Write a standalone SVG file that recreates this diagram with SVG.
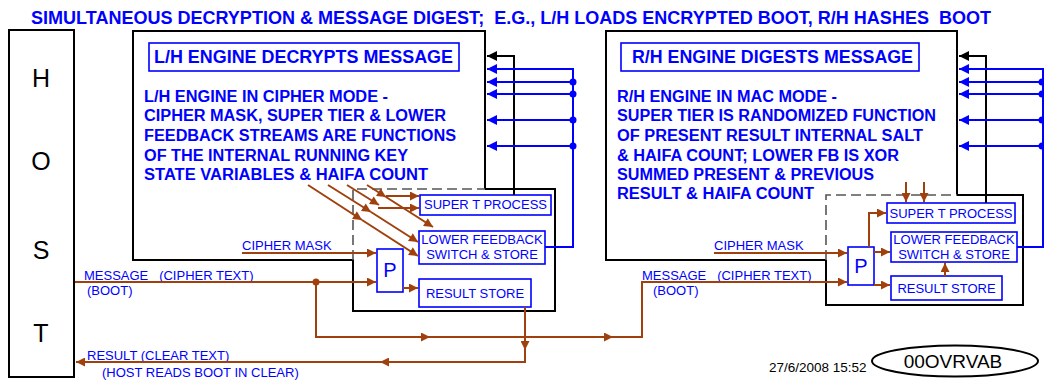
<svg xmlns="http://www.w3.org/2000/svg" width="1044" height="381" viewBox="0 0 1044 381">
<defs>
<style>
text{font-family:"Liberation Sans",Arial,sans-serif}
.bt{font-weight:bold;fill:#0000ff;font-size:16px}
.tt{font-weight:bold;fill:#0000ff;font-size:18px}
.sb{fill:#fff;stroke:#0000ff;stroke-width:1.6}
.st{font-size:13px;fill:#0000ff;text-anchor:middle}
.lb{font-size:13px;fill:#0000ff}
.bk{fill:none;stroke:#000;stroke-width:2}
.dash{fill:none;stroke:#555;stroke-width:1.6;stroke-dasharray:10 5}
.br{fill:none;stroke:#A0410D;stroke-width:2}
.bl{fill:none;stroke:#0000ff;stroke-width:2}
.host{font-size:25px;fill:#000;text-anchor:middle}
</style>
<marker id="ab" viewBox="0 0 10 10" refX="10" refY="5" markerWidth="11" markerHeight="9" markerUnits="userSpaceOnUse" orient="auto"><path d="M0,0L10,5L0,10z" fill="#A0410D"/></marker>
<marker id="abl" viewBox="0 0 10 10" refX="10" refY="5" markerWidth="13" markerHeight="10" markerUnits="userSpaceOnUse" orient="auto"><path d="M0,0L10,5L0,10z" fill="#0000ff"/></marker>
<marker id="abk" viewBox="0 0 10 10" refX="10" refY="5" markerWidth="13" markerHeight="10" markerUnits="userSpaceOnUse" orient="auto"><path d="M0,0L10,5L0,10z" fill="#000"/></marker>
</defs>
<rect width="1044" height="381" fill="#fff"/>

<text id="title" x="31" y="24" class="tt" xml:space="preserve" textLength="960" lengthAdjust="spacingAndGlyphs">SIMULTANEOUS DECRYPTION &amp; MESSAGE DIGEST;  E.G., L/H LOADS ENCRYPTED BOOT, R/H HASHES  BOOT</text>

<g id="host">
<rect x="9" y="30" width="65" height="347" fill="#fff" stroke="#000" stroke-width="2"/>
<text x="41" y="87" class="host">H</text>
<text x="41" y="170" class="host">O</text>
<text x="41" y="259" class="host">S</text>
<text x="41" y="342" class="host">T</text>
</g>

<g id="lh-engine">
<path class="bk" d="M354,260H133V31H485V189"/>
<rect class="sb" x="149" y="43" width="310" height="28" stroke-width="2"/>
<text x="154" y="63" class="tt" textLength="299" lengthAdjust="spacingAndGlyphs">L/H ENGINE DECRYPTS MESSAGE</text>
<text class="bt" x="144" y="102" textLength="244" lengthAdjust="spacingAndGlyphs">L/H ENGINE IN CIPHER MODE -</text>
<text class="bt" x="144" y="121" textLength="302" lengthAdjust="spacingAndGlyphs">CIPHER MASK, SUPER TIER &amp; LOWER</text>
<text class="bt" x="144" y="141" textLength="312" lengthAdjust="spacingAndGlyphs">FEEDBACK STREAMS ARE FUNCTIONS</text>
<text class="bt" x="144" y="161" textLength="264" lengthAdjust="spacingAndGlyphs">OF THE INTERNAL RUNNING KEY</text>
<text class="bt" x="144" y="180" textLength="284" lengthAdjust="spacingAndGlyphs">STATE VARIABLES &amp; HAIFA COUNT</text>
</g>

<g id="lh-process">
<path class="bk" d="M485,189H555V311H353V260"/>
<path class="dash" d="M353,260V189H485"/>
</g>
<g id="lh-supert"><rect class="sb" x="420" y="195" width="131" height="20"/><text class="st" x="485.5" y="208.5">SUPER T PROCESS</text></g>
<g id="lh-lower"><rect class="sb" x="419" y="231" width="126" height="33"/><text class="st" x="482" y="243.5">LOWER FEEDBACK</text><text class="st" x="482" y="259">SWITCH &amp; STORE</text></g>
<g id="lh-result"><rect class="sb" x="419" y="279" width="112" height="28"/><text class="st" x="475" y="298">RESULT STORE</text></g>
<g id="lh-p"><rect class="sb" x="377" y="249" width="26" height="43" stroke-width="2"/><text x="390" y="277" font-size="20" fill="#0000ff" text-anchor="middle">P</text></g>

<g id="rh-engine">
<path class="bk" d="M826,260H606V31H957V195"/>
<rect class="sb" x="621" y="43" width="298" height="28" stroke-width="2"/>
<text x="632" y="63" class="tt" textLength="281" lengthAdjust="spacingAndGlyphs">R/H ENGINE DIGESTS MESSAGE</text>
<text class="bt" x="617" y="102" textLength="220" lengthAdjust="spacingAndGlyphs">R/H ENGINE IN MAC MODE -</text>
<text class="bt" x="617" y="121" textLength="319" lengthAdjust="spacingAndGlyphs">SUPER TIER IS RANDOMIZED FUNCTION</text>
<text class="bt" x="617" y="141" textLength="306" lengthAdjust="spacingAndGlyphs">OF PRESENT RESULT INTERNAL SALT</text>
<text class="bt" x="617" y="161" textLength="282" lengthAdjust="spacingAndGlyphs">&amp; HAIFA COUNT; LOWER FB IS XOR</text>
<text class="bt" x="617" y="180" textLength="257" lengthAdjust="spacingAndGlyphs">SUMMED PRESENT &amp; PREVIOUS</text>
<text class="bt" x="617" y="199" textLength="197" lengthAdjust="spacingAndGlyphs">RESULT &amp; HAIFA COUNT</text>
</g>

<g id="rh-process">
<path class="bk" d="M957,195H1023V305H826V260"/>
<path class="dash" d="M826,260V195H957"/>
</g>
<g id="rh-supert"><rect class="sb" x="887" y="203" width="128" height="20"/><text class="st" x="951" y="217.5">SUPER T PROCESS</text></g>
<g id="rh-lower"><rect class="sb" x="891" y="232" width="126" height="30"/><text class="st" x="954" y="244">LOWER FEEDBACK</text><text class="st" x="954" y="259">SWITCH &amp; STORE</text></g>
<g id="rh-result"><rect class="sb" x="891" y="276" width="111" height="24"/><text class="st" x="946.5" y="293">RESULT STORE</text></g>
<g id="rh-p"><rect class="sb" x="848" y="247" width="26" height="38" stroke-width="2"/><text x="861" y="273" font-size="20" fill="#0000ff" text-anchor="middle">P</text></g>

<g id="stamp">
<text x="769" y="372" font-size="13.5" fill="#000">27/6/2008 15:52</text>
<ellipse cx="955" cy="361" rx="83" ry="15.5" fill="#fff" stroke="#000" stroke-width="2"/>
<text x="953" y="368" font-size="19" fill="#000" text-anchor="middle">00OVRVAB</text>
</g>

<g id="labels">
<text class="lb" x="242" y="250">CIPHER MASK</text>
<text class="lb" x="84" y="280" xml:space="preserve">MESSAGE   (CIPHER TEXT)</text>
<text class="lb" x="87" y="295">(BOOT)</text>
<text class="lb" x="87" y="360">RESULT (CLEAR TEXT)</text>
<text class="lb" x="102" y="377">(HOST READS BOOT IN CLEAR)</text>
<text class="lb" x="714" y="250">CIPHER MASK</text>
<text class="lb" x="642" y="280" xml:space="preserve">MESSAGE   (CIPHER TEXT)</text>
<text class="lb" x="653" y="295">(BOOT)</text>
</g>

<g id="connectors">
<!-- left feedback -->
<path class="bk" d="M514,195V56H487" marker-end="url(#abk)"/>
<path class="bl" d="M545,247H573V69H487" marker-end="url(#abl)"/>
<path class="bl" d="M573,82H487" marker-end="url(#abl)"/>
<path class="bl" d="M573,94H487" marker-end="url(#abl)"/>
<path class="bl" d="M573,120H487" marker-end="url(#abl)"/>
<path class="bl" d="M573,146H487" marker-end="url(#abl)"/>
<g fill="#0000ff"><circle cx="573" cy="82" r="3.5"/><circle cx="573" cy="94" r="3.5"/><circle cx="573" cy="120" r="3.5"/><circle cx="573" cy="146" r="3.5"/></g>
<!-- right feedback -->
<path class="bk" d="M986,203V56H959" marker-end="url(#abk)"/>
<path class="bl" d="M1017,247H1043V69H959" marker-end="url(#abl)"/>
<path class="bl" d="M1043,82H959" marker-end="url(#abl)"/>
<path class="bl" d="M1043,94H959" marker-end="url(#abl)"/>
<path class="bl" d="M1043,120H959" marker-end="url(#abl)"/>
<path class="bl" d="M1043,146H959" marker-end="url(#abl)"/>
<g fill="#0000ff"><circle cx="1042" cy="82" r="3.5"/><circle cx="1042" cy="94" r="3.5"/><circle cx="1042" cy="120" r="3.5"/><circle cx="1042" cy="146" r="3.5"/></g>
<!-- left diagonal state streams -->
<path class="br" d="M308,185L362,220" marker-end="url(#ab)"/>
<path class="br" d="M362,220L418,256" marker-end="url(#ab)"/>
<path class="br" d="M328,185L371,212" marker-end="url(#ab)"/>
<path class="br" d="M371,212L418,242" marker-end="url(#ab)"/>
<path class="br" d="M347,185L379,205" marker-end="url(#ab)"/>
<path class="br" d="M378,208H419" marker-end="url(#ab)"/>
<path class="br" d="M367,185L386,197" marker-end="url(#ab)"/>
<path class="br" d="M386,196H419" marker-end="url(#ab)"/>
<path class="br" d="M386,197L433,227" marker-end="url(#ab)"/>
<!-- left inputs -->
<path class="br" d="M242,253H376" marker-end="url(#ab)"/>
<path class="br" d="M75,282H376" marker-end="url(#ab)"/>
<circle cx="316" cy="282" r="3.5" fill="#A0410D"/>
<path class="br" d="M403,288H418" marker-end="url(#ab)"/>
<!-- message to right engine -->
<path class="br" d="M316,282V337H430" marker-end="url(#ab)"/>
<path class="br" d="M430,337H613" marker-end="url(#ab)"/>
<path class="br" d="M613,337H642V282H847" marker-end="url(#ab)"/>
<!-- result back to host -->
<path class="br" d="M525,307V350" marker-end="url(#ab)"/>
<path class="br" d="M525,350V362H380" marker-end="url(#ab)"/>
<path class="br" d="M380,362H76" marker-end="url(#ab)"/>
<!-- right engine internal -->
<path class="br" d="M714,253H847" marker-end="url(#ab)"/>
<path class="br" d="M874,252H890" marker-end="url(#ab)"/>
<path class="br" d="M874,285H890" marker-end="url(#ab)"/>
<path class="br" d="M869,247V213H886" marker-end="url(#ab)"/>
<path class="br" d="M945,276V263" marker-end="url(#ab)"/>
<path class="br" d="M906,182V202" marker-end="url(#ab)"/>
<path class="br" d="M924,182V202" marker-end="url(#ab)"/>
</g>
</svg>
